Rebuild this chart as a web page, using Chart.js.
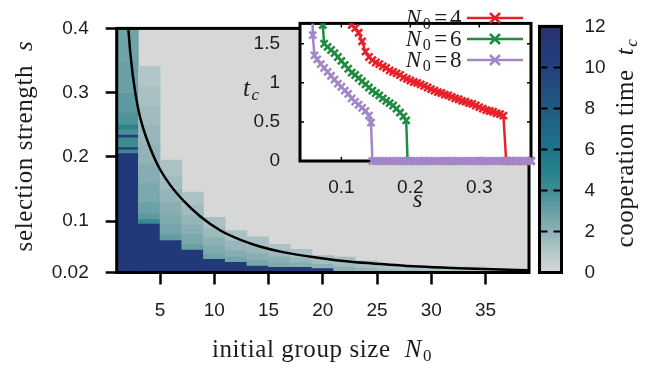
<!DOCTYPE html>
<html><head><meta charset="utf-8">
<script src="https://cdn.jsdelivr.net/npm/chart.js@4.4.1/dist/chart.umd.min.js"></script>
<style>
html,body{margin:0;padding:0;background:#fff;}
#wrap{position:relative;width:646px;height:368px;overflow:hidden;}
canvas{position:absolute;left:0;top:0;width:646px;height:368px;}
</style></head><body>
<div id="wrap">
<canvas id="main" width="646" height="368"></canvas>
<canvas id="inset" width="646" height="368"></canvas>
<canvas id="cbar" width="646" height="368"></canvas>
</div>
<script>
// ---------- main heat map data ----------
const N0 = [2,4,6,8,10,12,14,16,18,20,22,24,26,28,30,32,34,36,38];
// per column: s boundaries (bottom -> top) of bands
const cellEdges = [
  [0.02,0.206,0.212,0.2155,0.2305,0.235,0.243,0.251,0.27,0.30,0.35,0.40],
  [0.02,0.0965,0.104,0.112,0.13,0.16,0.19,0.22,0.25,0.28,0.31,0.341],
  [0.02,0.0708,0.08,0.095,0.11,0.13,0.15,0.17,0.195],
  [0.02,0.056,0.065,0.08,0.095,0.11,0.125,0.145],
  [0.02,0.0416,0.05,0.062,0.075,0.09,0.106],
  [0.02,0.0367,0.045,0.055,0.07,0.0854],
  [0.02,0.031,0.04,0.05,0.062,0.0756],
  [0.02,0.029,0.036,0.046,0.055,0.064],
  [0.02,0.029,0.036,0.044,0.056],
  [0.02,0.027,0.034,0.0464],
  [0.02,0.03,0.044],
  [0.02,0.028,0.038],
  [0.02,0.026,0.033],
  [0.02,0.025,0.031],
  [0.02,0.029],
  [0.02,0.028],
  [0.02,0.029],
  [0.02,0.026],
  [0.02,0.024]
];
// per column: cooperation time t_c of each band
const cellT = [
  [11,4.2,10.5,4.0,10.5,3.8,4.8,3.6,3.3,3.0,2.8],
  [11,4.3,3.3,2.9,2.5,2.2,1.9,1.7,1.5,1.3,1.1],
  [11,3.2,2.7,2.4,2.1,1.8,1.5,1.2],
  [11,3.0,2.5,2.1,1.8,1.5,1.2],
  [11,2.8,2.4,2.0,1.6,1.3],
  [11,2.7,2.2,1.7,1.3],
  [11,2.6,2.1,1.7,1.3],
  [11,2.4,2.0,1.6,1.2],
  [11,2.2,1.7,1.3],
  [11,2.0,1.4],
  [2.0,1.4],
  [1.8,1.3],
  [1.6,1.2],
  [1.5,1.1],
  [1.2],
  [1.1],
  [1.0],
  [0.9],
  [0.8]
];
// black theory curve
const curveN = [2.0,2.07,2.5,3.0,3.46,4.08,4.85,5.94,7.17,8.71,10.56,12.42,14.27,16.43,19.52,22.6,25.7,28.8,31.9,34.9,39.0];
const curveS = [0.425,0.40,0.325,0.273,0.2435,0.2143,0.185,0.156,0.1315,0.1073,0.0854,0.0708,0.060,0.0513,0.0431,0.0367,0.0328,0.0293,0.027,0.0255,0.0235];
const xTicks = [5,10,15,20,25,30,35];
const yTicks = [0.02,0.1,0.2,0.3,0.4];

// ---------- inset data ----------
const sN4 = [0.110,0.115,0.120,0.125,0.130,0.135,0.140,0.145,0.150,0.155,0.160,0.165,0.170,0.175,0.180,0.185,0.190,0.195,0.200,0.205,0.210,0.215,0.220,0.225,0.230,0.235,0.240,0.245,0.250,0.255,0.260,0.265,0.270,0.275,0.280,0.285,0.290,0.295,0.300,0.305,0.310,0.315,0.320,0.325,0.330,0.335,0.339,0.345,0.355,0.365,0.375];
const tN4 = [1.85,1.74,1.70,1.64,1.53,1.40,1.33,1.29,1.26,1.24,1.21,1.19,1.16,1.14,1.12,1.10,1.07,1.05,1.03,1.01,1.00,0.98,0.96,0.94,0.92,0.90,0.88,0.87,0.85,0.84,0.82,0.80,0.79,0.77,0.76,0.74,0.73,0.71,0.69,0.67,0.65,0.64,0.63,0.61,0.60,0.58,0,0,0,0,0];
const sN6 = [0.072,0.073,0.075,0.080,0.085,0.090,0.095,0.100,0.105,0.110,0.115,0.120,0.125,0.130,0.135,0.140,0.145,0.150,0.155,0.160,0.165,0.170,0.175,0.180,0.185,0.190,0.194,0.196,0.22,0.26,0.30,0.34,0.375];
const tN6 = [1.90,1.74,1.50,1.46,1.42,1.38,1.33,1.28,1.23,1.18,1.13,1.10,1.06,1.02,0.98,0.94,0.90,0.87,0.84,0.80,0.77,0.74,0.71,0.67,0.62,0.57,0.52,0,0,0,0,0,0];
const sN8 = [0.058,0.0585,0.061,0.065,0.070,0.075,0.080,0.085,0.090,0.095,0.100,0.105,0.110,0.115,0.120,0.125,0.130,0.135,0.140,0.143,0.145,0.150,0.155,0.160,0.165,0.170,0.175,0.180,0.185,0.190,0.195,0.200,0.205,0.210,0.215,0.220,0.225,0.230,0.235,0.240,0.245,0.250,0.255,0.260,0.265,0.270,0.275,0.280,0.285,0.290,0.295,0.300,0.305,0.310,0.315,0.320,0.325,0.330,0.335,0.340,0.345,0.350,0.355,0.360,0.365,0.370,0.375];
const tN8 = [1.90,1.61,1.35,1.30,1.24,1.19,1.14,1.09,1.04,0.99,0.95,0.90,0.86,0.80,0.76,0.72,0.68,0.64,0.58,0.49,0,0,0,0,0,0,0,0,0,0,0,0,0,0,0,0,0,0,0,0,0,0,0,0,0,0,0,0,0,0,0,0,0,0,0,0,0,0,0,0,0,0,0,0,0,0,0];
const insetXTicks = [0.1,0.2,0.3];
const insetYTicks = [0,0.5,1,1.5];
const legendLabels = ['4','6','8'];

// ---------- colour bar ----------
const cbRange = [0,12];
const cbTicks = [0,2,4,6,8,10,12];

// ---------- styling ----------
const cStops = [[0,[215,215,215]],[1,[180,200,202]],[2,[142,176,180]],[3,[104,160,165]],[4,[64,140,147]],[5,[36,129,142]],[6,[30,117,137]],[7,[31,104,134]],[8,[32,90,131]],[9,[34,76,128]],[10,[35,64,124]],[11,[34,57,121]],[12,[45,47,112]]];
function tColor(t){
  for(let i=1;i<cStops.length;i++){
    if(t<=cStops[i][0]){
      const [a,ca]=cStops[i-1],[b,cb]=cStops[i];
      const f=(t-a)/(b-a);
      return 'rgb('+ca.map((v,k)=>Math.round(v+(cb[k]-v)*f)).join(',')+')';
    }
  }
  return 'rgb('+cStops[cStops.length-1][1].join(',')+')';
}
const RED='#e8202a', GREEN='#1f8c3f', PURPLE='#a386c6';
const TICKFONT={family:'"Liberation Sans", Arial, sans-serif',size:19};
const TXT='#1c1c1c';
const SERIF='"Liberation Serif"';

function drawRich(ctx, parts, x, y, rot, align){
  ctx.save();
  ctx.translate(x,y);
  if(rot) ctx.rotate(rot);
  try{ctx.letterSpacing='0.6px';}catch(e){}
  let total=0;
  parts.forEach(p=>{ctx.font=p.font; p.w=ctx.measureText(p.text).width+(p.gap||0); total+=p.w;});
  let cx = align==='left'?0:(align==='right'?-total:-total/2);
  ctx.textBaseline='alphabetic'; ctx.textAlign='left'; ctx.fillStyle=TXT;
  parts.forEach(p=>{ctx.font=p.font; ctx.fillText(p.text,cx,p.dy||0); cx+=p.w;});
  ctx.restore();
}

const heatData=[];
N0.forEach((n,i)=>{
  const e=cellEdges[i], t=cellT[i];
  for(let k=0;k<t.length;k++) heatData.push({x:n,y:[e[k],e[k+1]],t:t[k]});
});

const mainPlugin={
  id:'mainDeco',
  beforeDatasetsDraw(chart){
    const {ctx,chartArea:a}=chart;
    ctx.save(); ctx.fillStyle=tColor(0); ctx.fillRect(a.left,a.top,a.right-a.left,a.bottom-a.top); ctx.restore();
  },
  afterDatasetsDraw(chart){
    const {ctx,chartArea:a}=chart;
    ctx.save(); ctx.strokeStyle='#000'; ctx.lineWidth=3;
    ctx.strokeRect(a.left,a.top,a.right-a.left,a.bottom-a.top); ctx.restore();
  },
  afterDraw(chart){
    const ctx=chart.ctx;
    const f=s=>s+'px '+SERIF, fi=s=>'italic '+s+'px '+SERIF;
    drawRich(ctx,[{text:'initial group size',font:f(25),gap:14},{text:'N',font:fi(25),gap:1},{text:'0',font:f(17),dy:4}],322,357,0);
    drawRich(ctx,[{text:'selection strength',font:f(25),gap:14},{text:'s',font:fi(25)}],32,146,-Math.PI/2);
    drawRich(ctx,[{text:'cooperation time',font:f(25),gap:14},{text:'t',font:fi(25),gap:1},{text:'c',font:fi(17),dy:4}],633,143,-Math.PI/2);
  }
};

new Chart(document.getElementById('main'),{
  type:'bar',
  data:{datasets:[
    {type:'line',data:curveN.map((n,i)=>({x:n,y:curveS[i]})),borderColor:'#000',borderWidth:2.5,pointRadius:0,cubicInterpolationMode:'monotone',order:0},
    {type:'bar',data:heatData,backgroundColor:c=>tColor(c.raw?c.raw.t:0),borderWidth:0,categoryPercentage:1,barPercentage:1,order:1}
  ]},
  options:{
    responsive:false,animation:false,devicePixelRatio:1,
    layout:{padding:{left:0,top:12.5,right:117,bottom:0}},
    plugins:{legend:{display:false},tooltip:{enabled:false}},
    scales:{
      x:{type:'linear',min:1,max:39,offset:false,
        afterFit:s=>{s.height=95.5;},
        afterBuildTicks:s=>{s.ticks=xTicks.map(v=>({value:v}));},
        grid:{drawOnChartArea:false,drawTicks:true,tickLength:12,tickWidth:2.5,tickColor:'#000',offset:false},
        border:{display:false},
        ticks:{font:TICKFONT,color:TXT,padding:15,maxRotation:0,autoSkip:false,callback:v=>String(v)}},
      y:{type:'linear',min:0.02,max:0.4,
        afterFit:s=>{s.width=116.7;},
        afterBuildTicks:s=>{s.ticks=yTicks.map(v=>({value:v}));},
        grid:{drawOnChartArea:false,drawTicks:true,tickLength:11,tickWidth:2.5,tickColor:'#000'},
        border:{display:false},
        ticks:{font:TICKFONT,color:TXT,padding:17,autoSkip:false,callback:v=>String(v)}}
    }
  },
  plugins:[mainPlugin]
});

// ---------- inset ----------
function crossAt(ctx,x,y,r,color){
  ctx.save(); ctx.strokeStyle=color; ctx.lineWidth=2.5; ctx.beginPath();
  ctx.moveTo(x-r,y-r); ctx.lineTo(x+r,y+r); ctx.moveTo(x-r,y+r); ctx.lineTo(x+r,y-r); ctx.stroke(); ctx.restore();
}
const insetPlugin={
  id:'insetDeco',
  beforeDatasetsDraw(chart){
    const {ctx,chartArea:a,scales}=chart;
    ctx.save();
    ctx.fillStyle='#fff'; ctx.fillRect(a.left,a.top,a.right-a.left,a.bottom-a.top);
    ctx.strokeStyle='#000'; ctx.lineWidth=1.5;
    ctx.beginPath();
    insetXTicks.forEach(v=>{const p=scales.x.getPixelForValue(v); ctx.moveTo(p,a.top); ctx.lineTo(p,a.top+4); ctx.moveTo(p,a.bottom); ctx.lineTo(p,a.bottom-4);});
    insetYTicks.forEach(v=>{const p=scales.y.getPixelForValue(v); ctx.moveTo(a.left,p); ctx.lineTo(a.left+4,p); ctx.moveTo(a.right,p); ctx.lineTo(a.right-4,p);});
    ctx.stroke();
    ctx.lineWidth=3; ctx.strokeRect(a.left,a.top,a.right-a.left,a.bottom-a.top);
    ctx.restore();
  },
  afterDraw(chart){
    const ctx=chart.ctx;
    const f=s=>s+'px '+SERIF, fi=s=>'italic '+s+'px '+SERIF;
    const cols=[RED,GREEN,PURPLE], rows=[18,39,60];
    legendLabels.forEach((lab,i)=>{
      const y=rows[i];
      drawRich(ctx,[{text:'N',font:fi(23),gap:1},{text:'0',font:f(16),dy:4,gap:3},{text:'=',font:f(23),gap:2},{text:lab,font:f(23)}],462,y+7,0,'right');
      ctx.save(); ctx.strokeStyle=cols[i]; ctx.lineWidth=2.5; ctx.beginPath(); ctx.moveTo(467,y); ctx.lineTo(523,y); ctx.stroke(); ctx.restore();
      crossAt(ctx,495,y,5,cols[i]);
    });
    drawRich(ctx,[{text:'t',font:fi(25),gap:1},{text:'c',font:fi(17),dy:4}],243,96,0,'left');
    drawRich(ctx,[{text:'s',font:fi(25)}],418,207,0);
  }
};
const mk=(s,t)=>s.map((v,i)=>({x:v,y:t[i]}));
const dsOpt=(data,color,order)=>({data,borderColor:color,backgroundColor:color,borderWidth:2.5,pointStyle:'crossRot',pointRadius:5,pointBorderWidth:2.5,pointBorderColor:color,order,clip:{left:0,top:0,right:8,bottom:8}});
new Chart(document.getElementById('inset'),{
  type:'line',
  data:{datasets:[dsOpt(mk(sN8,tN8),PURPLE,0),dsOpt(mk(sN6,tN6),GREEN,1),dsOpt(mk(sN4,tN4),RED,2)]},
  options:{
    responsive:false,animation:false,devicePixelRatio:1,
    layout:{padding:{left:0,top:11,right:115,bottom:0}},
    plugins:{legend:{display:false},tooltip:{enabled:false}},
    scales:{
      x:{type:'linear',min:0.04,max:0.375,
        afterFit:s=>{s.height=207;},
        afterBuildTicks:s=>{s.ticks=insetXTicks.map(v=>({value:v}));},
        grid:{display:false},border:{display:false},
        ticks:{font:TICKFONT,color:TXT,padding:7,maxRotation:0,autoSkip:false,callback:v=>String(v)}},
      y:{type:'linear',min:0,max:1.76,
        afterFit:s=>{s.width=300;},
        afterBuildTicks:s=>{s.ticks=insetYTicks.map(v=>({value:v}));},
        grid:{display:false},border:{display:false},
        ticks:{font:TICKFONT,color:TXT,padding:12,autoSkip:false,callback:v=>String(v)}}
    }
  },
  plugins:[insetPlugin]
});

// ---------- colour bar ----------
const cbPlugin={
  id:'cbDeco',
  afterDatasetsDraw(chart){
    const {ctx,chartArea:a,scales}=chart;
    ctx.save(); ctx.strokeStyle='#000'; ctx.lineWidth=2; ctx.beginPath();
    cbTicks.slice(1,-1).forEach(v=>{const p=scales.y.getPixelForValue(v); ctx.moveTo(a.left,p); ctx.lineTo(a.left+8,p); ctx.moveTo(a.right,p); ctx.lineTo(a.right-8,p);});
    ctx.stroke();
    ctx.lineWidth=3; ctx.strokeRect(a.left,a.top,a.right-a.left,a.bottom-a.top);
    ctx.restore();
  }
};
new Chart(document.getElementById('cbar'),{
  type:'bar',
  data:{labels:['t'],datasets:[{data:[cbRange],borderWidth:0,categoryPercentage:1,barPercentage:1,
    backgroundColor:c=>{
      const ch=c.chart, y=ch.scales&&ch.scales.y;
      if(!y||!ch.chartArea) return '#888';
      const g=ch.ctx.createLinearGradient(0,y.getPixelForValue(cbRange[0]),0,y.getPixelForValue(cbRange[1]));
      cStops.forEach(([v,rgb])=>g.addColorStop((v-cbRange[0])/(cbRange[1]-cbRange[0]),'rgb('+rgb.join(',')+')'));
      return g;
    }}]},
  options:{
    responsive:false,animation:false,devicePixelRatio:1,
    layout:{padding:{left:539.5,top:11.5,right:0,bottom:95.5}},
    plugins:{legend:{display:false},tooltip:{enabled:false}},
    scales:{
      x:{display:false},
      y:{position:'right',min:cbRange[0],max:cbRange[1],
        afterFit:s=>{s.width=646-561.5;},
        afterBuildTicks:s=>{s.ticks=cbTicks.map(v=>({value:v}));},
        grid:{display:false},border:{display:false},
        ticks:{font:TICKFONT,color:TXT,padding:15,autoSkip:false,callback:v=>String(v)}}
    }
  },
  plugins:[cbPlugin]
});
</script>
</body></html>
